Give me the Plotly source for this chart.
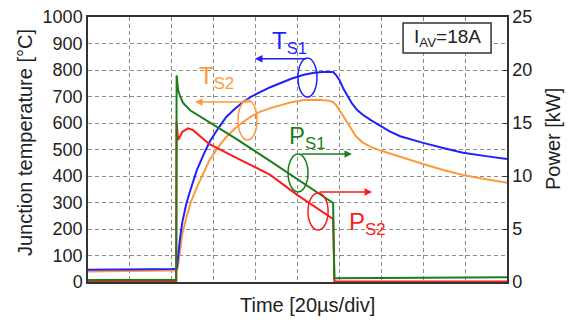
import plotly.graph_objects as go

# ---- data (time in µs, 20 µs/div; temperatures in °C; power in kW) ----
t_ts1 = [0, 10, 20, 30, 40, 42.2, 42.5, 43, 44, 45, 46, 47, 49, 52, 55, 58, 62, 66, 70, 74, 78, 82, 87, 92, 97, 103, 108, 112, 117,
         118.5, 120, 122, 124, 126, 128.5, 131, 135, 140, 144, 149, 155, 160, 170, 179, 190, 200]
ts1 = [46, 46, 47, 48, 49, 50, 57, 100, 170, 225, 265, 298, 350, 423, 478, 528, 578, 623, 653, 679, 700, 717, 735, 751, 767, 782, 790, 792, 792,
       780, 762, 728, 698, 674, 649, 632, 611, 587, 568, 550, 536, 525, 505, 488, 475, 464]

t_ts2 = [0, 10, 20, 30, 40, 42.2, 42.8, 43.5, 44, 45, 47, 49, 52, 55, 58, 62, 66, 70, 74, 78, 82, 87, 92, 97, 103, 110, 115, 117,
         118.5, 120, 122, 124, 126, 128, 131, 135, 140, 145, 149, 155, 160, 170, 179, 190, 200]
ts2 = [40, 40, 41, 42, 43, 43, 50, 95, 132, 180, 245, 300, 358, 412, 460, 508, 547, 578, 604, 625, 642, 656, 668, 678, 687, 688, 684, 679,
       667, 649, 624, 600, 572, 549, 527, 510, 495, 482, 472, 458, 445, 422, 404, 388, 374]

t_ps1 = [0, 20, 42.1, 42.3, 43, 44, 45.4, 48.7, 70, 87, 117, 117.6, 130, 160, 200]
ps1 = [0.2, 0.2, 0.2, 19.5, 18.1, 17.5, 16.9, 16.2, 13.6, 11.4, 7.45, 0.35, 0.35, 0.4, 0.45]

t_ps2 = [0, 20, 42.1, 42.3, 43, 45, 47.7, 50, 58, 72, 87, 100, 117, 117.6, 150, 200]
ps2 = [0.05, 0.05, 0.05, 15.1, 13.4, 14.15, 14.5, 14.35, 13.0, 11.6, 10.1, 8.2, 5.95, 0.05, 0.05, 0.05]

temp_ticks = [0, 100, 200, 300, 400, 500, 600, 700, 800, 900, 1000]
power_ticks = [0, 5, 10, 15, 20, 25]

BLUE = "#1f1fff"
ORANGE = "#ff9a3c"
GREEN = "#1a7f1a"
RED = "#ff1a1a"
FONT = "Liberation Sans, Arial, sans-serif"

fig = go.Figure()
fig.add_trace(go.Scatter(x=t_ts2, y=ts2, mode="lines", line=dict(color=ORANGE, width=2), yaxis="y"))
fig.add_trace(go.Scatter(x=t_ts1, y=ts1, mode="lines", line=dict(color=BLUE, width=2), yaxis="y"))
fig.add_trace(go.Scatter(x=t_ps2, y=ps2, mode="lines", line=dict(color=RED, width=2), yaxis="y2"))
fig.add_trace(go.Scatter(x=t_ps1, y=ps1, mode="lines", line=dict(color=GREEN, width=2), yaxis="y2"))

GRID = dict(showgrid=True, gridcolor="#8c8c8c", gridwidth=1, griddash="4px,3px")
LINE = dict(showline=True, linecolor="#333333", linewidth=1.5)

fig.update_layout(
    width=573, height=320,
    margin=dict(l=88, r=66, t=17, b=38, autoexpand=False),
    paper_bgcolor="white", plot_bgcolor="white",
    showlegend=False,
    font=dict(family=FONT, size=18, color="#222222"),
    xaxis=dict(range=[0, 200], dtick=20, tick0=0, showticklabels=False, ticks="",
               zeroline=False, mirror=True, automargin=False, **GRID, **LINE),
    yaxis=dict(range=[0, 1000], tickvals=temp_ticks, ticks="", zeroline=False,
               mirror=True, automargin=False, tickfont=dict(size=18), **GRID, **LINE),
    yaxis2=dict(range=[0, 25], tickvals=power_ticks, overlaying="y", side="right",
                showgrid=False, zeroline=False, ticks="inside", ticklen=4, automargin=False,
                tickcolor="#333333", tickfont=dict(size=18), **LINE),
)

# axis titles
fig.add_annotation(text="Junction temperature [°C]", xref="paper", yref="paper",
                   x=-0.150, y=0.525, textangle=-90, showarrow=False,
                   xanchor="center", yanchor="middle", font=dict(size=20))
fig.add_annotation(text="Power [kW]", xref="paper", yref="paper",
                   x=1.110, y=0.540, textangle=-90, showarrow=False,
                   xanchor="center", yanchor="middle", font=dict(size=20))
fig.add_annotation(text="Time [20µs/div]", xref="paper", yref="paper",
                   x=0.525, y=-0.087, showarrow=False,
                   xanchor="center", yanchor="middle", font=dict(size=20))

# series labels, arrows and ellipses (annotation positions in time / °C)
labels = [
    ("T<sub>S1</sub>", 86.9, 905, BLUE, (105, 842, 79.7, 842), (100.2, 698, 109.3, 845)),
    ("T<sub>S2</sub>", 52.0, 772, ORANGE, (78.3, 679, 51.1, 679), (71.6, 536, 80.7, 687)),
    ("P<sub>S1</sub>", 95.0, 545, GREEN, (101.2, 483, 126, 483), (95.5, 340, 105, 483)),
    ("P<sub>S2</sub>", 123.6, 220, RED, (109.8, 340, 135.6, 340), (105, 196, 114.6, 336)),
]
for txt, lx, ly, col, arr, ell in labels:
    fig.add_annotation(text=txt, x=lx, y=ly, xref="x", yref="y", showarrow=False,
                       xanchor="left", yanchor="middle", font=dict(size=24, color=col))
    fig.add_annotation(x=arr[2], y=arr[3], ax=arr[0], ay=arr[1], xref="x", yref="y",
                       axref="x", ayref="y", text="", showarrow=True, arrowhead=2,
                       arrowsize=1, arrowwidth=1.5, arrowcolor=col)
    fig.add_shape(type="circle", xref="x", yref="y", x0=ell[0], y0=ell[1], x1=ell[2], y1=ell[3],
                  line=dict(color=col, width=1.5))

# I_AV box
fig.add_shape(type="rect", xref="x", yref="y", x0=150.4, y0=864, x1=192.4, y1=977,
              line=dict(color="#333333", width=1.5), fillcolor="white")
fig.add_annotation(text="I<sub>AV</sub>=18A", x=171.4, y=920, xref="x", yref="y",
                   showarrow=False, xanchor="center", yanchor="middle",
                   font=dict(size=19, color="#222222"))

fig.write_html("out.html", config={"displayModeBar": False},
               post_script="document.body.style.margin='0px';document.body.style.padding='0px';")
